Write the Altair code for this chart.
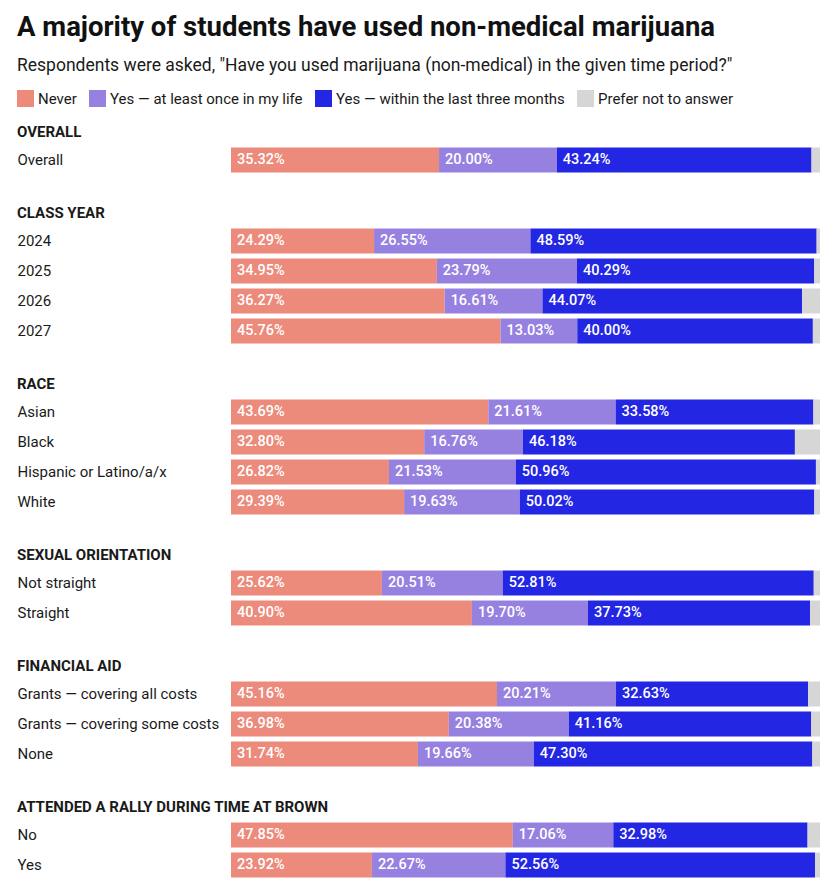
import altair as alt
import pandas as pd

responses = ["Never", "Yes — at least once in my life",
             "Yes — within the last three months", "Prefer not to answer"]
colors = ["#ec8a7b", "#9781e0", "#2326e3", "#d6d6d6"]

groups = ["OVERALL", "CLASS YEAR", "RACE", "SEXUAL ORIENTATION",
          "FINANCIAL AID", "ATTENDED A RALLY DURING TIME AT BROWN"]

categories = ["Overall",
              "2024", "2025", "2026", "2027",
              "Asian", "Black", "Hispanic or Latino/a/x", "White",
              "Not straight", "Straight",
              "Grants — covering all costs", "Grants — covering some costs", "None",
              "No", "Yes"]
category_group = ["OVERALL",
                  "CLASS YEAR", "CLASS YEAR", "CLASS YEAR", "CLASS YEAR",
                  "RACE", "RACE", "RACE", "RACE",
                  "SEXUAL ORIENTATION", "SEXUAL ORIENTATION",
                  "FINANCIAL AID", "FINANCIAL AID", "FINANCIAL AID",
                  "ATTENDED A RALLY DURING TIME AT BROWN",
                  "ATTENDED A RALLY DURING TIME AT BROWN"]

never = [35.32, 24.29, 34.95, 36.27, 45.76, 43.69, 32.80, 26.82, 29.39,
         25.62, 40.90, 45.16, 36.98, 31.74, 47.85, 23.92]
once = [20.00, 26.55, 23.79, 16.61, 13.03, 21.61, 16.76, 21.53, 19.63,
        20.51, 19.70, 20.21, 20.38, 19.66, 17.06, 22.67]
recent = [43.24, 48.59, 40.29, 44.07, 40.00, 33.58, 46.18, 50.96, 50.02,
          52.81, 37.73, 32.63, 41.16, 47.30, 32.98, 52.56]
prefer_not = [1.44, 0.57, 0.97, 3.05, 1.21, 1.12, 4.26, 0.69, 0.96,
              1.06, 1.67, 2.00, 1.48, 1.30, 2.11, 0.85]

rows = []
for i, cat in enumerate(categories):
    for j, vals in enumerate([never, once, recent, prefer_not]):
        rows.append({"group": category_group[i], "category": cat,
                     "response": responses[j], "order": j, "value": vals[i]})
df = pd.DataFrame(rows)

FONT = "Roboto"


def panel(group):
    base = alt.Chart(df).transform_filter(
        alt.datum.group == group
    ).transform_stack(
        stack="value", groupby=["category"],
        sort=[alt.SortField("order", order="ascending")],
        as_=["x0", "x1"]
    ).transform_calculate(
        label="format(datum.value, '.2f') + '%'"
    )
    y = alt.Y("category:N", sort=categories, title=None,
              scale=alt.Scale(paddingInner=5 / 30, paddingOuter=5 / 60),
              axis=alt.Axis(labelAlign="left", labelPadding=214, ticks=False,
                            domain=False, labelFontSize=15, labelFont=FONT,
                            labelColor="#1a1a1a", labelLimit=220))
    bars = base.mark_bar(cornerRadius=0).encode(
        x=alt.X("x0:Q", scale=alt.Scale(domain=[0, 100], nice=False), axis=None),
        x2="x1:Q",
        y=y,
        color=alt.Color("response:N",
                        scale=alt.Scale(domain=responses, range=colors),
                        legend=alt.Legend(title=None, orient="none",
                                          direction="horizontal",
                                          legendX=-214, legendY=-55))
    )
    texts = base.transform_filter(alt.datum.order < 3).mark_text(
        align="left", baseline="middle", dx=6, color="white",
        fontSize=14.5, font=FONT, fontWeight=500
    ).encode(
        x=alt.X("x0:Q"),
        y=alt.Y("category:N", sort=categories),
        text="label:N"
    )
    return alt.layer(bars, texts).properties(
        width=589, height=alt.Step(30),
        title=alt.TitleParams(group, anchor="start", fontSize=15,
                              fontWeight="bold", font=FONT, color="#1a1a1a",
                              offset=5)
    )


chart = alt.vconcat(*[panel(g) for g in groups], spacing=31).properties(
    title=alt.TitleParams(
        "A majority of students have used non-medical marijuana",
        subtitle='Respondents were asked, "Have you used marijuana (non-medical) in the given time period?"',
        anchor="start", fontSize=27.5, font=FONT, fontWeight="bold",
        color="#111111", subtitleFont=FONT, subtitleFontSize=17.5,
        subtitleColor="#1a1a1a", subtitlePadding=15, offset=16
    ),
    padding={"left": 9, "top": 6, "right": 5, "bottom": 5}
).configure_view(stroke=None).configure_legend(
    symbolType="square",
    symbolSize=289, symbolStrokeWidth=0, symbolOpacity=1,
    labelFont=FONT, labelFontSize=15, labelColor="#1a1a1a",
    columnPadding=12, labelOffset=4, labelLimit=400
).configure_concat(spacing=31)

chart.save("out.html", embed_options={"renderer": "svg", "actions": False})
